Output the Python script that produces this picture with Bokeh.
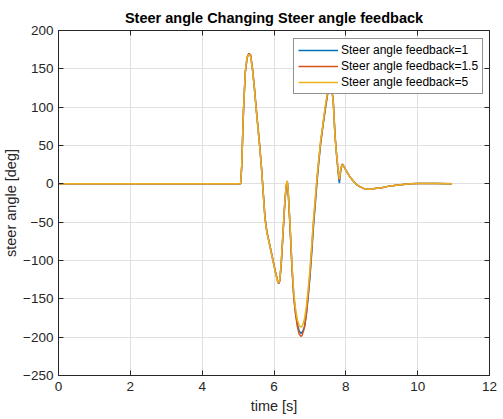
from bokeh.plotting import figure
from bokeh.models import LinearAxis, Legend, LegendItem, FixedTicker, Range1d
from bokeh.embed import file_html
from bokeh.resources import INLINE

# ---- data ----
t = [0.0, 5.05, 5.07, 5.1, 5.15, 5.2, 5.25, 5.3, 5.35, 5.4, 5.45, 5.5, 5.55, 5.6, 5.65,
     5.7, 5.75, 5.8, 5.85, 5.9, 5.95, 6.0, 6.05, 6.1, 6.13, 6.16, 6.2, 6.25, 6.3, 6.34,
     6.37, 6.4, 6.45, 6.5, 6.55, 6.6, 6.65, 6.7, 6.75, 6.78, 6.82, 6.85, 6.9, 6.95,
     7.0, 7.05, 7.1, 7.15, 7.2, 7.25, 7.3, 7.35, 7.4, 7.45, 7.5, 7.55, 7.6, 7.65, 7.7,
     7.75, 7.8, 7.82, 7.86, 7.9, 7.95, 8.0, 8.1, 8.2, 8.3, 8.4, 8.5, 8.6, 8.7, 8.8,
     9.0, 9.2, 9.4, 9.6, 9.8, 10.0, 10.2, 10.5, 10.95]

fb_1 = [0, 0, 0, 22, 95, 145, 164, 170, 167, 150, 127, 100, 75, 50, 22,
        -12, -45, -62, -73, -84, -95, -106, -117, -126, -130, -126, -106, -66, -26, -3,
        3, -14, -58, -108, -146, -168, -183, -192, -195, -194, -190, -186, -171, -148,
        -122, -90, -55, -26, 4, 30, 53, 71, 88, 104, 119, 130, 127, 107, 62,
        33, 8, 1, 18, 25, 22, 18, 10, 4, -1, -4, -6, -7, -7, -6,
        -5, -3, -2, -1, 0, 0.5, 0.5, 0.3, 0]

fb_15 = [0, 0, 0, 22, 95, 145, 165, 170, 168, 151, 128, 101, 76, 51, 23,
         -11, -44, -62, -73, -84, -95, -106, -117, -127, -130, -127, -105, -65, -25, -2,
         3, -15, -60, -110, -148, -170, -186, -196, -199, -198, -192, -187, -170, -145,
         -118, -85, -50, -22, 8, 32, 55, 72, 90, 106, 120, 133, 128, 108, 62,
         35, 12, 5, 20, 26, 23, 18, 10, 4, -1, -4, -6, -7, -7, -6,
         -5, -3, -2, -1, 0, 0.5, 0.5, 0.3, 0]

fb_5 = [0, 0, 0, 22, 96, 146, 165, 169, 166, 149, 126, 99, 74, 49, 21,
        -13, -46, -63, -74, -85, -96, -107, -118, -127, -129, -125, -103, -63, -24, -1,
        4, -13, -56, -105, -142, -163, -177, -185, -187, -186, -181, -176, -160, -138,
        -112, -80, -46, -18, 10, 34, 57, 74, 92, 108, 122, 133, 127, 106, 60,
        34, 12, 6, 20, 25, 22, 18, 10, 4, -1, -4, -6, -7, -7, -6,
        -5, -3, -2, -1, 0, 0.5, 0.5, 0.3, 0]

labels = ["Steer angle feedback=1", "Steer angle feedback=1.5", "Steer angle feedback=5"]
colors = ["#0072BD", "#D95319", "#EDB120"]
x_ticks = [0, 2, 4, 6, 8, 10, 12]
y_ticks = [-250, -200, -150, -100, -50, 0, 50, 100, 150, 200]

FONT = "Liberation Sans"
DARK = "#262626"

p = figure(width=503, height=419, output_backend="svg", toolbar_location=None,
           x_range=Range1d(0, 12), y_range=Range1d(-250, 200),
           title="Steer angle Changing Steer angle feedback",
           min_border_left=52, min_border_right=14, min_border_top=30, min_border_bottom=44)

p.title.align = "center"
p.title.text_font = FONT
p.title.text_font_size = "14.5px"
p.title.text_font_style = "bold"
p.title.text_color = "#000000"

renderers = []
for ys, c in zip([fb_1, fb_15, fb_5], colors):
    r = p.line(t, ys, line_color=c, line_width=1.5)
    renderers.append(r)

for ax in [p.xaxis[0], p.yaxis[0]]:
    ax.major_label_text_font = FONT
    ax.major_label_text_font_size = "13.5px"
    ax.major_label_text_color = DARK
    ax.axis_label_text_font = FONT
    ax.axis_label_text_font_size = "14.5px"
    ax.axis_label_text_font_style = "normal"
    ax.axis_label_text_color = DARK
    ax.axis_line_color = DARK
    ax.major_tick_line_color = DARK
    ax.major_tick_in = 5
    ax.major_tick_out = 0
    ax.minor_tick_line_color = None

p.xaxis[0].ticker = FixedTicker(ticks=x_ticks)
p.yaxis[0].ticker = FixedTicker(ticks=y_ticks)
p.xaxis[0].axis_label = "time [s]"
p.yaxis[0].axis_label = "steer angle [deg]"
p.xaxis[0].major_label_standoff = 6
p.yaxis[0].major_label_standoff = 5
p.xaxis[0].axis_label_standoff = 4
p.yaxis[0].axis_label_standoff = 1

# mirrored ticks on top / right (MATLAB box style), no labels
top = LinearAxis(ticker=FixedTicker(ticks=x_ticks),
                 major_label_overrides={v: "" for v in x_ticks},
                 major_tick_in=5, major_tick_out=0, minor_tick_line_color=None,
                 axis_line_color=DARK, major_tick_line_color=DARK, major_label_standoff=0)
right = LinearAxis(ticker=FixedTicker(ticks=y_ticks),
                   major_label_overrides={v: "" for v in y_ticks},
                   major_tick_in=5, major_tick_out=0, minor_tick_line_color=None,
                   axis_line_color=DARK, major_tick_line_color=DARK, major_label_standoff=0)
p.add_layout(top, "above")
p.add_layout(right, "right")

p.xgrid.ticker = FixedTicker(ticks=x_ticks)
p.ygrid.ticker = FixedTicker(ticks=y_ticks)
p.grid.grid_line_color = "#e0e0e0"
p.outline_line_color = DARK

legend = Legend(items=[LegendItem(label=l, renderers=[r]) for l, r in zip(labels, renderers)],
                location=(235, 281))
legend.label_text_font = FONT
legend.label_text_font_size = "12px"
legend.label_text_color = "#000000"
legend.glyph_width = 40
legend.glyph_height = 14
legend.label_height = 14
legend.label_standoff = 3
legend.spacing = 2
legend.padding = 4
legend.margin = 0
legend.border_line_color = DARK
legend.border_line_width = 1
legend.background_fill_color = "white"
legend.background_fill_alpha = 1
p.add_layout(legend, "center")

open("out.html", "w").write(file_html(p, INLINE))
